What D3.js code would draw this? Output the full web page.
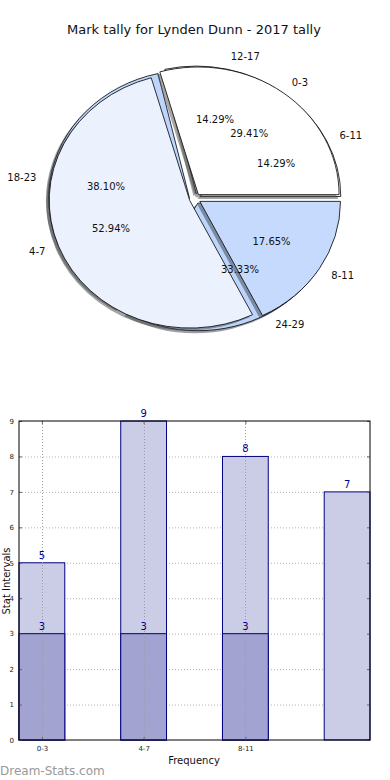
<!DOCTYPE html>
<html>
<head>
<meta charset="utf-8">
<script src="https://cdn.jsdelivr.net/npm/d3@7"></script>
<style>
  body { margin: 0; background: #fff; }
  svg { display: block; font-family: "DejaVu Sans", sans-serif; }
</style>
</head>
<body>
<div id="chart-area"></div>
<script>
// data
const pieLabelsA = ["0-3", "4-7", "8-11"],
      pieValuesA = [5, 9, 3],
      pieColorsA = ["#ffffff", "#ebf2fe", "#c6dafd"];
const pieLabelsB = ["6-11", "12-17", "18-23", "24-29"],
      pieValuesB = [3, 3, 8, 7],
      pieColorsB = ["#ffffff", "#ebf2fe", "#bdd5fc", "#bdd5fc"];

const barCats = ["0-3", "4-7", "8-11", ""],
      barTotals = [5, 9, 8, 7],
      barLower = [3, 3, 3];
const yTicks = [0, 1, 2, 3, 4, 5, 6, 7, 8, 9];

const svgWidth = 390, svgHeight = 780;

var svg = d3.select("#chart-area")
    .append("svg")
    .attr("width", svgWidth)
    .attr("height", svgHeight);

// ---------- pie ----------
const cx = 195, cy = 198.7, rx = 140.7, ry = 127.6, explode = 0.04;

svg.append("text")
    .attr("x", 194).attr("y", 34)
    .attr("font-size", "13px")
    .attr("text-anchor", "middle")
    .attr("fill", "#111")
    .text("Mark tally for Lynden Dunn - 2017 tally");

var pie = d3.pie().sort(null)
    .startAngle(Math.PI / 2)
    .endAngle(Math.PI / 2 - 2 * Math.PI);

var arc = d3.arc().innerRadius(0).outerRadius(1);

function shade(c){
    var k = d3.rgb(c);
    return d3.rgb(k.r * 0.3, k.g * 0.3, k.b * 0.3).toString();
}

var pieLayer = svg.append("g"),
    textLayer = svg.append("g");

function drawPie(values, labels, colors){
    var arcs = pie(values),
        total = d3.sum(values);

    // shadows first
    arcs.forEach(function(d, i){
        var mid = (d.startAngle + d.endAngle) / 2,
            ux = Math.sin(mid), uy = -Math.cos(mid),
            ox = cx + explode * rx * ux,
            oy = cy + explode * ry * uy;

        pieLayer.append("path")
            .attr("d", arc(d))
            .attr("transform", "translate(" + (ox - 0.02 * rx) + "," + (oy + 0.02 * ry) + ") scale(" + rx + "," + ry + ")")
            .attr("fill", shade(colors[i]))
            .attr("fill-opacity", 0.5);

        d.ox = ox; d.oy = oy; d.ux = ux; d.uy = uy; d.i = i;
    });

    arcs.forEach(function(d){
        pieLayer.append("path")
            .attr("d", arc(d))
            .attr("transform", "translate(" + d.ox + "," + d.oy + ") scale(" + rx + "," + ry + ")")
            .attr("fill", colors[d.i])
            .attr("stroke", "#000")
            .attr("stroke-width", 0.8)
            .attr("vector-effect", "non-scaling-stroke");

        textLayer.append("text")
            .attr("x", d.ox + 1.1 * rx * d.ux)
            .attr("y", d.oy + 1.1 * ry * d.uy)
            .attr("dy", "0.35em")
            .attr("font-size", "10px")
            .attr("text-anchor", d.ux > 0 ? "start" : "end")
            .attr("fill", "#111")
            .text(labels[d.i]);

        textLayer.append("text")
            .attr("x", d.ox + 0.6 * rx * d.ux)
            .attr("y", d.oy + 0.6 * ry * d.uy)
            .attr("dy", "0.35em")
            .attr("font-size", "10px")
            .attr("text-anchor", "middle")
            .attr("fill", "#111")
            .text(d3.format(".2f")(d.value / total * 100) + "%");
    });
}

drawPie(pieValuesB, pieLabelsB, pieColorsB);
drawPie(pieValuesA, pieLabelsA, pieColorsA);

// ---------- bars ----------
const margin = {left: 19, top: 421, right: 20, bottom: 40};
const chartWidth = svgWidth - margin.left - margin.right,
      chartHeight = svgHeight - margin.top - margin.bottom;
const barW = 0.45;

var g = svg.append("g")
    .attr("transform", "translate(" + margin.left + "," + margin.top + ")");

var xScale = d3.scaleLinear()
    .domain([-barW / 2, barCats.length - 1 + barW / 2])
    .range([0, chartWidth]);
var yScale = d3.scaleLinear()
    .domain([0, 9])
    .range([chartHeight, 0]);

// grid
g.append("g").selectAll("line")
    .data(yTicks.slice(1, -1))
    .enter().append("line")
    .attr("x1", 0).attr("x2", chartWidth)
    .attr("y1", function(d){ return yScale(d) + 0.5; })
    .attr("y2", function(d){ return yScale(d) + 0.5; })
    .attr("stroke", "#b3b3b3")
    .attr("stroke-dasharray", "1,2");

// light bars (totals)
g.selectAll(".bar-total")
    .data(barTotals)
    .enter().append("rect")
    .attr("class", "bar-total")
    .attr("x", function(d, i){ return xScale(i - barW / 2); })
    .attr("y", function(d){ return yScale(d); })
    .attr("width", xScale(barW) - xScale(0))
    .attr("height", function(d){ return chartHeight - yScale(d); })
    .attr("fill", "#cbcce6")
    .attr("stroke", "#000080")
    .attr("stroke-width", 1);

// dark bars
g.selectAll(".bar-lower")
    .data(barLower)
    .enter().append("rect")
    .attr("class", "bar-lower")
    .attr("x", function(d, i){ return xScale(i - barW / 2); })
    .attr("y", function(d){ return yScale(d); })
    .attr("width", xScale(barW) - xScale(0))
    .attr("height", function(d){ return chartHeight - yScale(d); })
    .attr("fill", "#a2a3d1")
    .attr("stroke", "#000080")
    .attr("stroke-width", 1);

// vertical grid (over bars)
g.append("g").selectAll("line")
    .data([0, 1, 2])
    .enter().append("line")
    .attr("x1", function(d){ return Math.round(xScale(d)) + 0.5; })
    .attr("x2", function(d){ return Math.round(xScale(d)) + 0.5; })
    .attr("y1", 0).attr("y2", chartHeight)
    .attr("stroke", "#9a9aa6")
    .attr("stroke-dasharray", "1,2");

// value labels
function valueLabels(data){
    g.append("g").selectAll("text")
        .data(data)
        .enter().append("text")
        .attr("x", function(d, i){ return xScale(i); })
        .attr("y", function(d){ return yScale(d) - 4; })
        .attr("font-size", "10px")
        .attr("text-anchor", "middle")
        .attr("fill", "#00008b")
        .text(function(d){ return d; });
}
valueLabels(barTotals);
valueLabels(barLower);

// axes
var yAxisL = d3.axisLeft(yScale).tickValues(yTicks).tickSize(-3).tickPadding(5);
var yAxisR = d3.axisRight(yScale).tickValues(yTicks).tickSize(-3).tickFormat("");
var xAxisB = d3.axisBottom(xScale).tickValues([0, 1, 2])
    .tickFormat(function(d){ return barCats[d]; }).tickSize(-3).tickPadding(6);
var xAxisT = d3.axisTop(xScale).tickValues([0, 1, 2]).tickSize(-3).tickFormat("");

g.append("g").attr("class", "axis").call(yAxisL);
g.append("g").attr("class", "axis").attr("transform", "translate(" + chartWidth + ",0)").call(yAxisR);
g.append("g").attr("class", "axis").attr("transform", "translate(0," + chartHeight + ")").call(xAxisB);
g.append("g").attr("class", "axis").call(xAxisT);

g.selectAll(".axis .domain").remove();
g.selectAll(".axis line").attr("stroke", "#666");
g.selectAll(".axis text")
    .attr("font-size", "7px")
    .attr("font-family", "DejaVu Sans, sans-serif")
    .attr("fill", "#222");

// frame
g.append("rect")
    .attr("x", 0).attr("y", 0)
    .attr("width", chartWidth).attr("height", chartHeight)
    .attr("fill", "none")
    .attr("stroke", "#000")
    .attr("stroke-width", 1);

// axis labels
svg.append("text")
    .attr("x", 194).attr("y", 764)
    .attr("font-size", "10px")
    .attr("text-anchor", "middle")
    .attr("fill", "#111")
    .text("Frequency");

svg.append("text")
    .attr("transform", "translate(9.5,581) rotate(-90)")
    .attr("font-size", "10px")
    .attr("text-anchor", "middle")
    .attr("fill", "#111")
    .text("Stat Intervals");

svg.append("text")
    .attr("x", 0).attr("y", 775)
    .attr("font-size", "12px")
    .attr("fill", "#999")
    .text("Dream-Stats.com");
</script>
</body>
</html>
